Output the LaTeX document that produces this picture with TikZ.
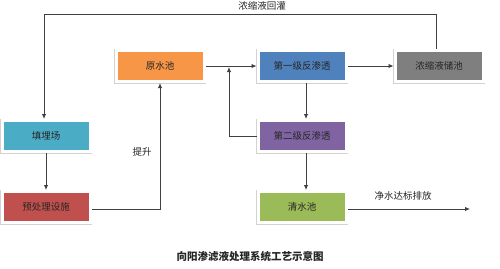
\documentclass[tikz,border=0pt]{standalone}
\usepackage{fontspec}
\setmainfont{Noto Sans CJK SC}
\usetikzlibrary{arrows.meta,shadows}
\definecolor{cOrange}{HTML}{F79646}
\definecolor{cBlue}{HTML}{4F81BD}
\definecolor{cGray}{HTML}{7F7F7F}
\definecolor{cCyan}{HTML}{4BACC6}
\definecolor{cRed}{HTML}{C0504D}
\definecolor{cPurple}{HTML}{8064A2}
\definecolor{cGreen}{HTML}{9BBB59}
\definecolor{cLine}{HTML}{404040}
\definecolor{cText}{HTML}{262626}
\tikzset{
  procbox/.style={rectangle, minimum width=88pt, minimum height=31pt, inner sep=0pt,
    draw=white, line width=3pt, text=cText, font=\fontsize{9.5}{11}\selectfont,
    preaction={draw=gray!35, line width=4pt},
    drop shadow={shadow xshift=1.5pt, shadow yshift=-1.5pt, fill=gray!45, opacity=0.6}},
  conn/.style={draw=cLine, line width=0.9pt, -{Latex[length=5pt,width=4.5pt]}},
  plain/.style={draw=cLine, line width=0.9pt},
  lbl/.style={text=cText, font=\fontsize{9.5}{11}\selectfont, inner sep=0pt}
}
\begin{document}
\begin{tikzpicture}[x=1pt,y=-1pt]
\useasboundingbox[fill=white] (0,0) rectangle (500,268);
\node[procbox, fill=cOrange] (yuan) at (160,66) {原水池};
\node[procbox, fill=cBlue] (ro1) at (302,66) {第一级反渗透};
\node[procbox, fill=cGray] (con) at (439,66) {浓缩液储池};
\node[procbox, fill=cCyan] (fill) at (46,136) {填埋场};
\node[procbox, fill=cRed] (pre) at (46,207) {预处理设施};
\node[procbox, fill=cPurple] (ro2) at (302,136) {第二级反渗透};
\node[procbox, fill=cGreen] (clear) at (302,207) {清水池};
\coordinate (tl) at (44,14);
\coordinate (tr) at (436,14);
\coordinate (j) at (229,67);
\coordinate (out) at (470,209);
\draw[plain] ([xshift=-3pt]con.north) -- (tr) -- (tl);
\draw[conn] (tl) -- ([xshift=-2pt]fill.north);
\draw[conn] (fill) -- (pre);
\draw[conn] ([yshift=-2pt]pre.east) -| (yuan.south);
\draw[conn] (yuan.east) -- (ro1.west);
\draw[conn] (ro1.east) -- (con.west);
\draw[conn] ([xshift=4pt]ro1.south) -- ([xshift=4pt]ro2.north);
\draw[conn] ([xshift=4pt]ro2.south) -- ([xshift=4pt]clear.north);
\draw[conn] (ro2.west) -| (j);
\draw[conn] ([yshift=-2pt]clear.east) -- (out);
\node[lbl] (l1) at (262,6) {浓缩液回灌};
\node[lbl] (l2) at (142,152) {提升};
\node[lbl] (l3) at (403,196) {净水达标排放};
\node[lbl, font=\fontsize{10.5}{12}\selectfont\bfseries] (title) at (250,256) {向阳渗滤液处理系统工艺示意图};
\end{tikzpicture}
\end{document}
